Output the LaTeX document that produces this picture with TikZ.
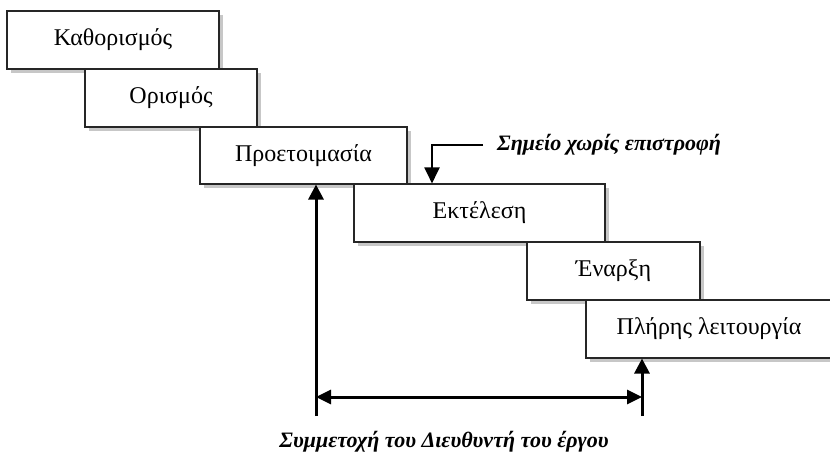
\documentclass[tikz,border=0pt]{standalone}
\usepackage{fontspec}
\setmainfont{Liberation Serif}
\usetikzlibrary{arrows.meta,shadows}
\tikzset{
  box/.style={draw=black!85, line width=1.1pt, fill=white, inner sep=0pt,
    font=\fontsize{24}{28}\selectfont,
    drop shadow={shadow xshift=4pt, shadow yshift=-4pt, fill=black!22, opacity=1}},
  thickarrow/.style={line width=3pt, -{Triangle[length=15pt,width=15pt]}},
  thinarrow/.style={line width=2pt, -{Triangle[length=16pt,width=15pt]}},
  bothtips/.style={line width=3pt, {Triangle[length=15pt,width=14pt]}-{Triangle[length=15pt,width=14pt]}},
  lbl/.style={inner sep=0pt, font=\fontsize{22}{26}\selectfont\bfseries\itshape}
}
\begin{document}
\begin{tikzpicture}[x=1pt,y=-1pt]
\useasboundingbox (0,0) rectangle (830,453);
\clip (0,0) rectangle (830,453);
\node[box, minimum width=212pt, minimum height=58pt] (b1) at (113,40) {Καθορισμός};
\node[box, minimum width=172pt, minimum height=58pt] (b2) at (171,98) {Ορισμός};
\node[box, minimum width=207pt, minimum height=57pt] (b3) at (303.5,155.5) {Προετοιμασία};
\node[box, minimum width=251pt, minimum height=58pt] (b4) at (479.5,213) {Εκτέλεση};
\node[box, minimum width=173pt, minimum height=58pt] (b5) at (613.5,271) {Έναρξη};
\node[box, minimum width=246pt, minimum height=58pt] (b6) at (709,329) {Πλήρης λειτουργία};
% point of no return
\node[lbl, anchor=west] (pnr) at (497,145) {Σημείο χωρίς επιστροφή};
\coordinate (pnrbend) at (432,145);
\draw[thinarrow] ([xshift=-14pt]pnr.west) -- (pnrbend) -- (pnrbend |- b4.north);
% manager participation
\coordinate (lb) at (316,416);
\coordinate (rb) at (642,416);
\coordinate (lm) at (316,397);
\coordinate (rm) at (642,397);
\draw[thickarrow] (lb) -- (lb |- b3.south);
\draw[thickarrow] (rb) -- (rb |- b6.south);
\draw[bothtips] (lm) -- (rm);
\node[lbl] (pm) at (444,442) {Συμμετοχή του Διευθυντή του έργου};
\end{tikzpicture}
\end{document}
